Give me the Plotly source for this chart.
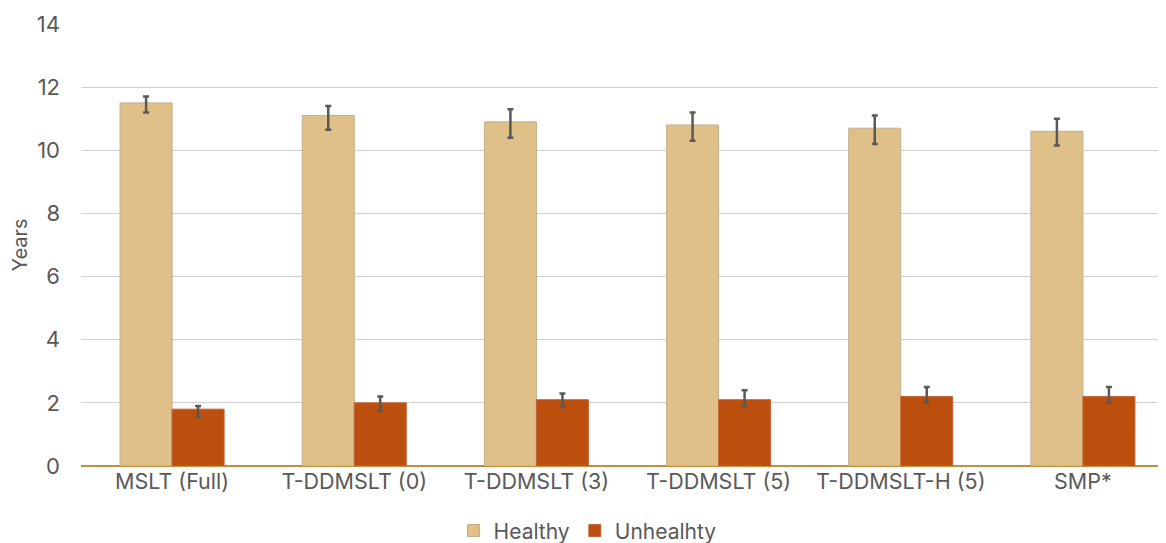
import plotly.graph_objects as go

categories = ["MSLT (Full)", "T-DDMSLT (0)", "T-DDMSLT (3)", "T-DDMSLT (5)", "T-DDMSLT-H (5)", "SMP*"]
healthy = [11.5, 11.1, 10.9, 10.8, 10.7, 10.6]
healthy_err_plus = [0.2, 0.3, 0.4, 0.4, 0.4, 0.4]
healthy_err_minus = [0.3, 0.45, 0.5, 0.5, 0.5, 0.45]
unhealthy = [1.8, 2.0, 2.1, 2.1, 2.2, 2.2]
unhealthy_err_plus = [0.1, 0.2, 0.2, 0.3, 0.3, 0.3]
unhealthy_err_minus = [0.25, 0.25, 0.2, 0.2, 0.2, 0.2]
y_ticks = [0, 2, 4, 6, 8, 10, 12, 14]

FONT = "Inter, Open Sans, sans-serif"
err_style = dict(type="data", symmetric=False, color="#595959", thickness=2.5, width=3)

fig = go.Figure()
fig.add_trace(go.Bar(
    name="Healthy", x=categories, y=healthy,
    marker=dict(color="#DFC088", line=dict(color="#BFAE8C", width=1)),
    error_y=dict(array=healthy_err_plus, arrayminus=healthy_err_minus, **err_style),
))
fig.add_trace(go.Bar(
    name="Unhealhty", x=categories, y=unhealthy,
    marker=dict(color="#BD4F0E", line=dict(color="#C0643A", width=1)),
    error_y=dict(array=unhealthy_err_plus, arrayminus=unhealthy_err_minus, **err_style),
))

fig.update_layout(
    width=1166, height=543,
    margin=dict(l=73, r=0, t=16, b=85, autoexpand=False),
    paper_bgcolor="white", plot_bgcolor="white",
    barmode="group", bargap=0.429, bargroupgap=0,
    font=dict(family=FONT, color="#595959", size=20),
    showlegend=True,
    legend=dict(orientation="h", x=0.4635, xanchor="center", yref="container",
                y=0.037, yanchor="middle",
                font=dict(size=21, color="#595959"), itemwidth=30, traceorder="normal"),
    xaxis=dict(showgrid=False, ticks="", tickfont=dict(size=21.5, color="#595959"),
               showline=False, automargin=False),
    yaxis=dict(range=[0, 14], tickvals=y_ticks, showgrid=True, gridcolor="#D0D0D0",
               gridwidth=1, zeroline=True, zerolinecolor="#C09040", zerolinewidth=1.5,
               ticks="", ticklabelstandoff=20, tickfont=dict(size=22, color="#595959"),
               automargin=False,
               title=dict(text="Years", font=dict(size=20, color="#595959"), standoff=5)),
)

fig.write_html("out.html")
